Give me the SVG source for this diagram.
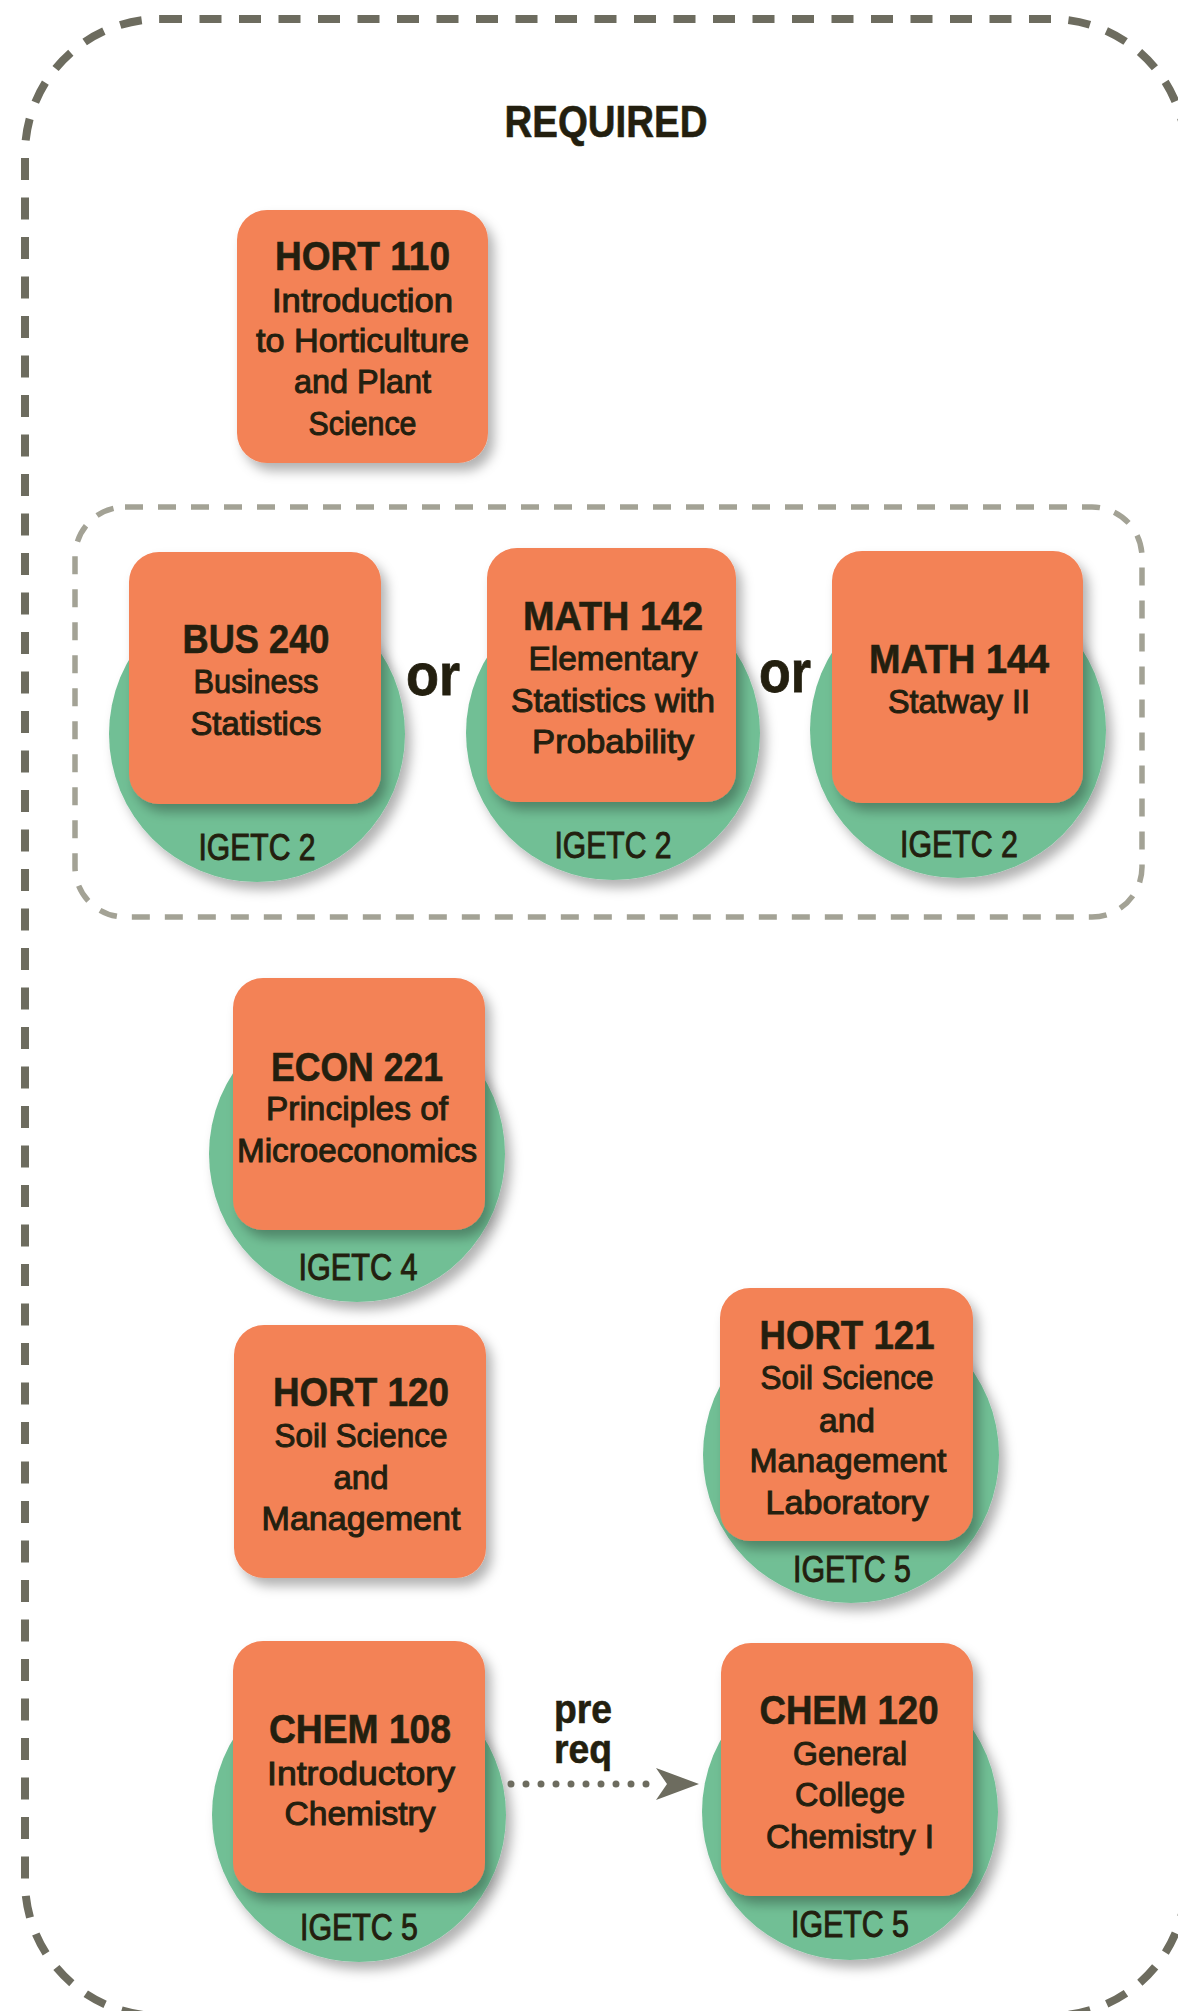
<svg xmlns="http://www.w3.org/2000/svg" width="1178" height="2011" viewBox="0 0 1178 2011">
<defs>
<filter id="sh" x="-20%" y="-20%" width="150%" height="150%">
<feDropShadow dx="6" dy="8" stdDeviation="6" flood-color="#000" flood-opacity="0.3"/>
</filter>
<style>
.box{fill:#f38257;filter:url(#sh)}
.cir{fill:#71bf95;filter:url(#sh)}
text{font-family:"Liberation Sans",Arial,sans-serif;fill:#231f0f;text-anchor:middle}
.t{font-weight:bold;font-size:45px;stroke:#231f0f;stroke-width:0.6}
.h{font-weight:bold;font-size:40px;stroke:#231f0f;stroke-width:0.6}
.s{font-size:33px;stroke:#231f0f;stroke-width:1}
.g{font-size:37px;stroke:#231f0f;stroke-width:1}
.or{font-weight:bold;font-size:60px;stroke:#231f0f;stroke-width:0.8}
</style>
</defs>
<rect x="25" y="19" width="1161" height="1997" rx="135" fill="none" stroke="#6d6c5f" stroke-width="8" stroke-dasharray="22 17.5"/>
<text class="t" x="606" y="137" textLength="203" lengthAdjust="spacingAndGlyphs">REQUIRED</text>
<rect x="75" y="507" width="1067" height="410" rx="50" fill="none" stroke="#a3a295" stroke-width="5.5" stroke-dasharray="18 15"/>

<g id="hort110">
<rect class="box" x="237" y="210" width="251" height="253" rx="30"/>
<text class="h" x="362.5" y="270" textLength="175" lengthAdjust="spacingAndGlyphs">HORT 110</text>
<text class="s" x="362.5" y="312" textLength="181" lengthAdjust="spacingAndGlyphs">Introduction</text>
<text class="s" x="362.5" y="352" textLength="213" lengthAdjust="spacingAndGlyphs">to Horticulture</text>
<text class="s" x="362.5" y="393" textLength="137" lengthAdjust="spacingAndGlyphs">and Plant</text>
<text class="s" x="362.5" y="435" textLength="108" lengthAdjust="spacingAndGlyphs">Science</text>
</g>

<g id="bus240">
<circle class="cir" cx="257" cy="734" r="148"/>
<rect class="box" x="129" y="552" width="252" height="252" rx="30"/>
<text class="h" x="256" y="653" textLength="147" lengthAdjust="spacingAndGlyphs">BUS 240</text>
<text class="s" x="256" y="693" textLength="125" lengthAdjust="spacingAndGlyphs">Business</text>
<text class="s" x="256" y="735" textLength="131" lengthAdjust="spacingAndGlyphs">Statistics</text>
<text class="g" x="257" y="860" textLength="117" lengthAdjust="spacingAndGlyphs">IGETC 2</text>
</g>

<text class="or" x="433" y="695" textLength="54" lengthAdjust="spacingAndGlyphs">or</text>

<g id="math142">
<circle class="cir" cx="613" cy="733" r="147"/>
<rect class="box" x="487" y="548" width="249" height="254" rx="30"/>
<text class="h" x="613" y="630" textLength="180" lengthAdjust="spacingAndGlyphs">MATH 142</text>
<text class="s" x="613" y="670" textLength="169" lengthAdjust="spacingAndGlyphs">Elementary</text>
<text class="s" x="613" y="712" textLength="204" lengthAdjust="spacingAndGlyphs">Statistics with</text>
<text class="s" x="613" y="753" textLength="162" lengthAdjust="spacingAndGlyphs">Probability</text>
<text class="g" x="613" y="858" textLength="117" lengthAdjust="spacingAndGlyphs">IGETC 2</text>
</g>

<text class="or" x="785" y="692" textLength="52" lengthAdjust="spacingAndGlyphs">or</text>

<g id="math144">
<circle class="cir" cx="958" cy="730" r="148"/>
<rect class="box" x="832" y="551" width="251" height="252" rx="30"/>
<text class="h" x="959" y="673" textLength="180" lengthAdjust="spacingAndGlyphs">MATH 144</text>
<text class="s" x="959" y="713" textLength="142" lengthAdjust="spacingAndGlyphs">Statway II</text>
<text class="g" x="959" y="857" textLength="118" lengthAdjust="spacingAndGlyphs">IGETC 2</text>
</g>

<g id="econ221">
<circle class="cir" cx="357" cy="1154" r="148"/>
<rect class="box" x="233" y="978" width="252" height="252" rx="30"/>
<text class="h" x="357" y="1081" textLength="172" lengthAdjust="spacingAndGlyphs">ECON 221</text>
<text class="s" x="357" y="1120" textLength="182" lengthAdjust="spacingAndGlyphs">Principles of</text>
<text class="s" x="357" y="1162" textLength="240" lengthAdjust="spacingAndGlyphs">Microeconomics</text>
<text class="g" x="358" y="1280" textLength="119" lengthAdjust="spacingAndGlyphs">IGETC 4</text>
</g>

<g id="hort120">
<rect class="box" x="234" y="1325" width="252" height="253" rx="30"/>
<text class="h" x="361" y="1406" textLength="176" lengthAdjust="spacingAndGlyphs">HORT 120</text>
<text class="s" x="361" y="1447" textLength="173" lengthAdjust="spacingAndGlyphs">Soil Science</text>
<text class="s" x="361" y="1489" textLength="55" lengthAdjust="spacingAndGlyphs">and</text>
<text class="s" x="361" y="1530" textLength="199" lengthAdjust="spacingAndGlyphs">Management</text>
</g>

<g id="hort121">
<circle class="cir" cx="851" cy="1455" r="148"/>
<rect class="box" x="720" y="1288" width="253" height="253" rx="30"/>
<text class="h" x="847" y="1349" textLength="175" lengthAdjust="spacingAndGlyphs">HORT 121</text>
<text class="s" x="847" y="1389" textLength="173" lengthAdjust="spacingAndGlyphs">Soil Science</text>
<text class="s" x="847" y="1432" textLength="56" lengthAdjust="spacingAndGlyphs">and</text>
<text class="s" x="848" y="1472" textLength="197" lengthAdjust="spacingAndGlyphs">Management</text>
<text class="s" x="847" y="1514" textLength="163" lengthAdjust="spacingAndGlyphs">Laboratory</text>
<text class="g" x="852" y="1582" textLength="118" lengthAdjust="spacingAndGlyphs">IGETC 5</text>
</g>

<g id="chem108">
<circle class="cir" cx="359" cy="1815" r="147"/>
<rect class="box" x="233" y="1641" width="252" height="252" rx="30"/>
<text class="h" x="360" y="1743" textLength="182" lengthAdjust="spacingAndGlyphs">CHEM 108</text>
<text class="s" x="361" y="1785" textLength="188" lengthAdjust="spacingAndGlyphs">Introductory</text>
<text class="s" x="360" y="1825" textLength="151" lengthAdjust="spacingAndGlyphs">Chemistry</text>
<text class="g" x="359" y="1940" textLength="118" lengthAdjust="spacingAndGlyphs">IGETC 5</text>
</g>

<g id="chem120">
<circle class="cir" cx="850" cy="1812" r="148"/>
<rect class="box" x="721" y="1643" width="252" height="253" rx="30"/>
<text class="h" x="849" y="1724" textLength="179" lengthAdjust="spacingAndGlyphs">CHEM 120</text>
<text class="s" x="850" y="1765" textLength="114" lengthAdjust="spacingAndGlyphs">General</text>
<text class="s" x="850" y="1806" textLength="110" lengthAdjust="spacingAndGlyphs">College</text>
<text class="s" x="850" y="1848" textLength="168" lengthAdjust="spacingAndGlyphs">Chemistry I</text>
<text class="g" x="850" y="1937" textLength="118" lengthAdjust="spacingAndGlyphs">IGETC 5</text>
</g>

<g id="connectors">
<line x1="511" y1="1784" x2="652" y2="1784" stroke="#6d6c5f" stroke-width="7" stroke-linecap="round" stroke-dasharray="0 15"/>
<path d="M656,1768 L699,1784 L656,1800 L667,1784 Z" fill="#6d6c5f"/>
<text class="h" x="583" y="1723" textLength="58" lengthAdjust="spacingAndGlyphs">pre</text>
<text class="h" x="583" y="1763" textLength="58" lengthAdjust="spacingAndGlyphs">req</text>
</g>
</svg>
